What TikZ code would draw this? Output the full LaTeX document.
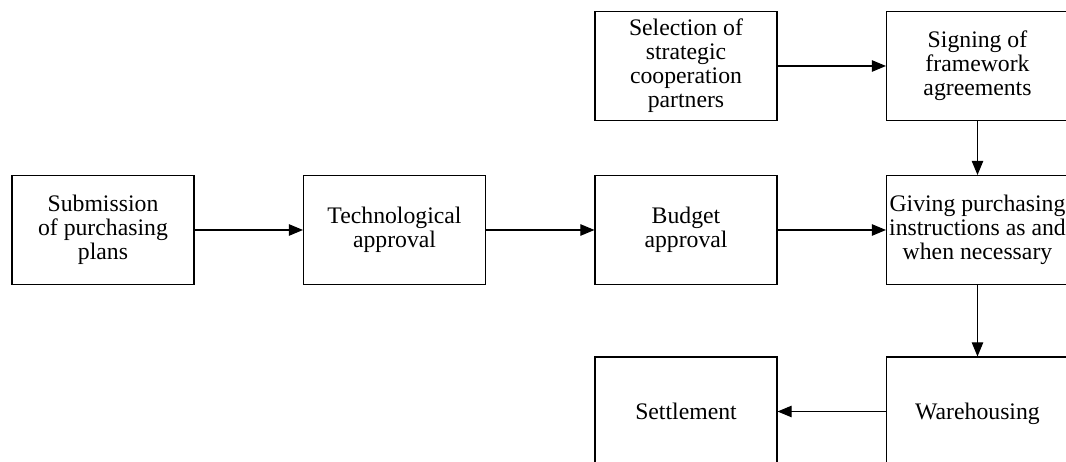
\documentclass[tikz,border=0pt]{standalone}
\usepackage{fontspec}
\setmainfont{Liberation Serif}
\usetikzlibrary{arrows.meta}

\begin{document}
\begin{tikzpicture}[
node distance=5.83cm,
every node/.style={
draw,
line width=0.6pt,
minimum width=3.64cm,
minimum height=2.18cm,
inner sep=1pt,
align=center,
font=\fontsize{13.5}{13.6}\selectfont
},
oneline/.style={text height=2.35ex, text depth=0.3ex},
>={Triangle[length=8pt,width=6.5pt]}
]
\useasboundingbox (-2.06,4.6) rectangle (19.26,-4.64);
\clip (-2.06,4.6) rectangle (19.26,-4.64);
\node (submit) {Submission\\of purchasing\\plans};
\node (tech) [right of=submit] {Technological\\approval};
\node (budget) [right of=tech] {Budget\\approval};
\node (instruct) [right of=budget] {Giving purchasing\\instructions as and\\when necessary};
\node (select) [above of=budget, node distance=3.28cm] {Selection of\\strategic\\cooperation\\partners};
\node (sign) [right of=select] {Signing of\\framework\\agreements};
\node (store) [below of=instruct, node distance=3.63cm, oneline] {Warehousing};
\node (settle) [left of=store, oneline] {Settlement};
\draw[->, line width=0.6pt] (submit) -- (tech);
\draw[->, line width=0.6pt] (tech) -- (budget);
\draw[->, line width=0.6pt] (budget) -- (instruct);
\draw[->, line width=0.6pt] (select) -- (sign);
\draw[->, line width=0.6pt] (sign) -- (instruct);
\draw[->, line width=0.6pt] (instruct) -- (store);
\draw[->, line width=0.6pt] (store) -- (settle);
\end{tikzpicture}
\end{document}
